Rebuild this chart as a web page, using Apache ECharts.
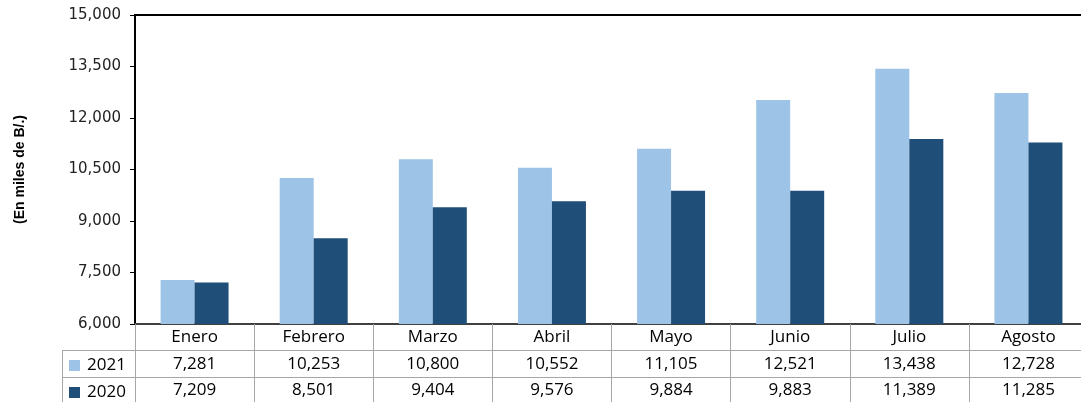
<!DOCTYPE html>
<html>
<head>
<meta charset="utf-8">
<script src="https://cdn.jsdelivr.net/npm/echarts@6/dist/echarts.min.js"></script>
<style>
html,body{margin:0;padding:0;background:#fff;}
#c{width:1081px;height:402px;}
</style>
</head>
<body>
<div id="c"></div>
<script>
const months = ['Enero','Febrero','Marzo','Abril','Mayo','Junio','Julio','Agosto'];
const values2021 = [7281, 10253, 10800, 10552, 11105, 12521, 13438, 12728];
const values2020 = [7209, 8501, 9404, 9576, 9884, 9883, 11389, 11285];
const yTicks = [6000, 7500, 9000, 10500, 12000, 13500, 15000];

const fmt = v => v.toLocaleString('en-US');
const chart = echarts.init(document.getElementById('c'));
const tableFont = 'Open Sans';
const legendBase = {
  left: 69, itemWidth: 11, itemHeight: 11, icon: 'rect', padding: 0, itemGap: 0,
  textStyle: {fontFamily: tableFont, fontSize: 17, color: '#000', padding: [0,0,0,2]}
};
chart.setOption({
  animation: false,
  backgroundColor: '#fff',
  grid: {left: 135, right: -7, top: 15, bottom: 78, containLabel: false, outerBoundsMode: 'none'},
  legend: [
    Object.assign({}, legendBase, {top: 357, data: ['2021']}),
    Object.assign({}, legendBase, {top: 384, data: ['2020']})
  ],
  xAxis: {
    type: 'category', data: months,
    axisLine: {lineStyle: {color: '#404040', width: 2}},
    axisTick: {show: true, length: 78, interval: 0, lineStyle: {color: '#a6a6a6', width: 1}},
    axisLabel: {
      interval: 0, margin: 0,
      fontFamily: tableFont, fontSize: 17, color: '#000', lineHeight: 26.5,
      formatter: (val, idx) => val + '\n' + fmt(values2021[idx]) + '\n' + fmt(values2020[idx])
    }
  },
  yAxis: {
    type: 'value', min: yTicks[0], max: yTicks[yTicks.length-1], interval: 1500,
    name: '(En miles de B/.)', nameLocation: 'middle', nameGap: 108, nameRotate: 90,
    nameTextStyle: {fontFamily: 'Liberation Sans', fontWeight: 'bold', fontSize: 14, color: '#000'},
    axisLine: {show: true, lineStyle: {color: '#000', width: 2}},
    axisTick: {show: true, length: 5, lineStyle: {color: '#000', width: 1}},
    splitLine: {show: false},
    axisLabel: {fontFamily: 'DejaVu Sans', fontSize: 15, color: '#222', margin: 14, formatter: v => fmt(v)}
  },
  series: [
    {name: '2021', type: 'bar', data: values2021, barWidth: 34, barGap: '0%', itemStyle: {color: '#9dc3e6'}},
    {name: '2020', type: 'bar', data: values2020, barWidth: 34, barGap: '0%', itemStyle: {color: '#1f4e79'}}
  ],
  graphic: [
    {type: 'line', shape: {x1: 134, y1: 15, x2: 1081, y2: 15}, style: {stroke: '#000', lineWidth: 2}, z: 10},
    {type: 'line', shape: {x1: 62, y1: 350.5, x2: 1081, y2: 350.5}, style: {stroke: '#a6a6a6', lineWidth: 1}},
    {type: 'line', shape: {x1: 62, y1: 377.5, x2: 1081, y2: 377.5}, style: {stroke: '#a6a6a6', lineWidth: 1}},
    {type: 'line', shape: {x1: 62.5, y1: 350, x2: 62.5, y2: 402}, style: {stroke: '#a6a6a6', lineWidth: 1}}
  ]
});
</script>
</body>
</html>
